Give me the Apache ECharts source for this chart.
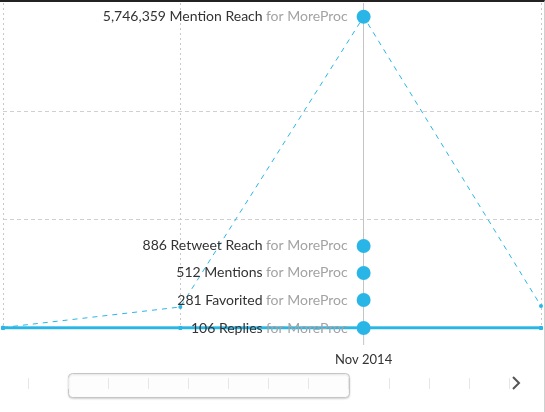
<!DOCTYPE html>
<html>
<head>
<meta charset="utf-8">
<script src="https://cdn.jsdelivr.net/npm/echarts@6/dist/echarts.min.js"></script>
<style>
  html, body { margin: 0; padding: 0; background: #fff; }
  #wrap { position: relative; width: 545px; height: 412px; }
  #main { position: absolute; left: 0; top: 0; width: 545px; height: 412px; }
  #frame { position: absolute; left: 0; top: 0; width: 544px; height: 410px;
           border-top: 2px solid #222; border-right: 1px solid #d0d0d0; pointer-events: none; }
</style>
</head>
<body>
<div id="wrap">
  <div id="main"></div>
  <div id="frame"></div>
</div>
<script>
// months shown on the chart (first day of each month)
var months = ['2014-09-01', '2014-10-01', '2014-11-01', '2014-12-01'];
var focusMonth = '2014-11-01';
var focusLabel = 'Nov 2014';
var account = 'for MoreProc';

// series values per month
var mentionReach = [9000, 388000, 5746359, 406000];
var retweetReach = [0, 310, 886, 45];
var mentions = [4, 41, 512, 37];
var favorited = [0, 22, 281, 18];
var replies = [0, 9, 106, 7];

// y axis
var yMax = 6000000;
var yStep = 2000000;

// navigator strip below the chart (one slot per month)
var navSlots = ['Jan', 'Feb', 'Mar', 'Apr', 'May', 'Jun', 'Jul', 'Aug', 'Sep', 'Oct', 'Nov', 'Dec'];

var blue = '#29b6e6';
var focusIdx = months.indexOf(focusMonth);
var focusTime = +echarts.time.parse(focusMonth);

function pairs(vals) {
  var out = [];
  for (var i = 0; i < months.length; i++) {
    out.push([months[i], vals[i]]);
  }
  return out;
}

function fmt(n) {
  return n.toString().replace(/\B(?=(\d{3})+(?!\d))/g, ',');
}

// big dot + text at the focused month; offset only spreads overlapping dots apart
function focusPoint(name, vals, offsetY) {
  return {
    symbol: 'circle',
    symbolSize: 14,
    symbolOffset: [0, offsetY],
    itemStyle: { color: blue },
    label: {
      show: true,
      position: 'left',
      distance: 9,
      formatter: function (p) {
        return '{a|' + fmt(p.value) + ' ' + name + '} {b|' + account + '}';
      },
      rich: {
        a: { color: '#333', fontSize: 14, fontFamily: 'Lato' },
        b: { color: '#a3a3a3', fontSize: 14, fontFamily: 'Lato' }
      }
    },
    data: [{ coord: [focusMonth, vals[focusIdx]], value: vals[focusIdx] }]
  };
}

function makeSeries(name, vals, offsetY, dashed) {
  return {
    name: name,
    type: 'line',
    data: pairs(vals),
    symbol: 'circle',
    symbolSize: 4,
    itemStyle: { color: blue },
    lineStyle: dashed ? { color: blue, width: 1, type: [5, 5] } : { color: blue, width: 2.5 },
    z: dashed ? 3 : 2,
    markPoint: focusPoint(name, vals, offsetY)
  };
}

var myChart = echarts.init(document.getElementById('main'));

var option = {
  animation: false,
  grid: [
    { left: 3, right: 4, top: 3, bottom: 84 },
    { left: 28, right: 36, top: 378, height: 11 }
  ],
  xAxis: [
    {
      type: 'time',
      gridIndex: 0,
      min: months[0],
      max: months[months.length - 1],
      splitNumber: 3,
      axisLine: { show: false },
      axisTick: { show: false },
      axisLabel: {
        showMinLabel: false,
        showMaxLabel: false,
        margin: 0,
        formatter: function (v) {
          return v === focusTime ? '{tick|}\n{t|' + focusLabel + '}' : '';
        },
        rich: {
          tick: { width: 1, height: 17, backgroundColor: '#c4c4c4' },
          t: { color: '#333', fontSize: 13, fontFamily: 'Lato', padding: [8, 0, 0, 0] }
        }
      },
      splitLine: { show: true, lineStyle: { color: '#c8c8c8', type: [2, 3] } }
    },
    {
      type: 'category',
      gridIndex: 1,
      data: navSlots,
      boundaryGap: true,
      z: 5,
      axisLine: { show: false },
      axisTick: { show: true, inside: true, length: 11, lineStyle: { color: '#e6e6e6' } },
      axisLabel: { show: false },
      splitLine: { show: false }
    }
  ],
  yAxis: [
    {
      type: 'value',
      gridIndex: 0,
      min: 0,
      max: yMax,
      interval: yStep,
      axisLine: { show: false },
      axisTick: { show: false },
      axisLabel: { show: false },
      splitLine: { show: true, showMaxLine: false, showMinLine: false, lineStyle: { color: '#d0d0d0', type: [4, 3] } }
    },
    { type: 'value', gridIndex: 1, show: false }
  ],
  series: [
    makeSeries('Replies', replies, 0, false),
    makeSeries('Favorited', favorited, -28, false),
    makeSeries('Mentions', mentions, -55, false),
    makeSeries('Retweet Reach', retweetReach, -82, false),
    makeSeries('Mention Reach', mentionReach, 0, true),
    {
      type: 'line',
      data: [],
      markLine: {
        silent: true,
        symbol: 'none',
        label: { show: false },
        lineStyle: { color: '#c4c4c4', width: 1, type: 'solid' },
        data: [{ xAxis: focusMonth }]
      }
    }
  ],
  graphic: [
    {
      type: 'rect',
      shape: { x: 68.5, y: 373.5, width: 281, height: 24, r: 4 },
      style: {
        fill: '#fdfdfd',
        stroke: '#c6c6c6',
        lineWidth: 1,
        shadowBlur: 2,
        shadowOffsetY: 1,
        shadowColor: 'rgba(0,0,0,0.15)'
      },
      z: 1
    },
    {
      type: 'polyline',
      shape: { points: [[513, 377], [519, 383], [513, 389]] },
      style: { stroke: '#555', lineWidth: 2, fill: null },
      z: 10
    }
  ]
};

myChart.setOption(option);
</script>
</body>
</html>
